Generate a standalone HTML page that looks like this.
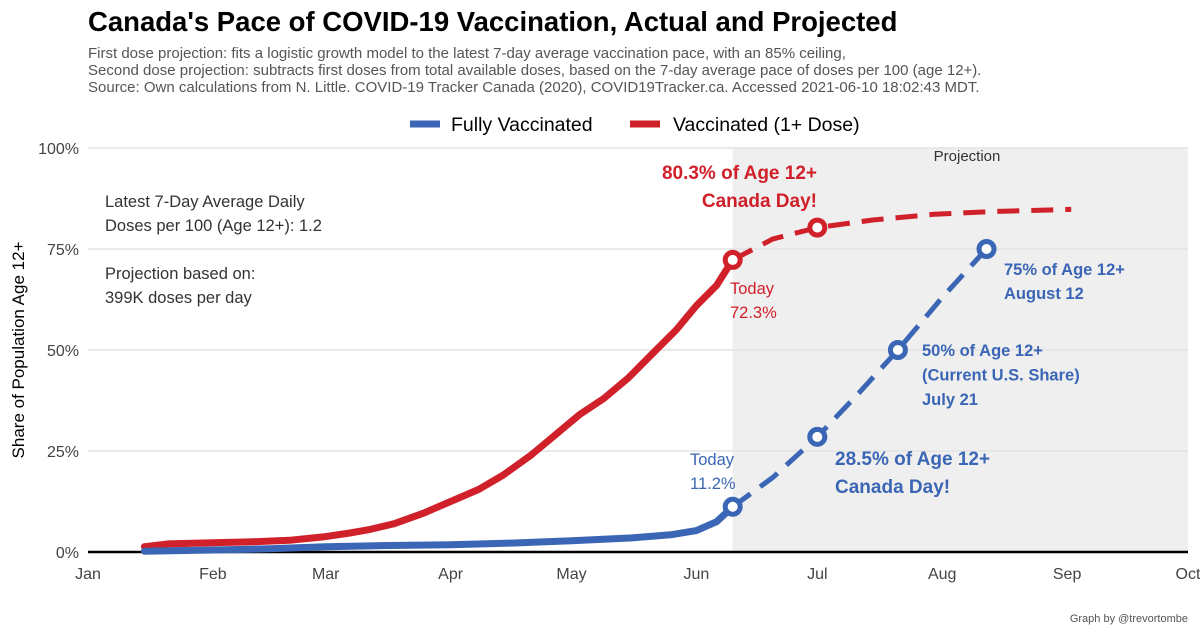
<!DOCTYPE html>
<html><head><meta charset="utf-8">
<style>
body{margin:0;background:#fff;font-family:"Liberation Sans",sans-serif;}
svg text{font-family:"Liberation Sans",sans-serif;}
</style></head>
<body>
<svg id="chart" width="1200" height="635" viewBox="0 0 1200 635" xmlns="http://www.w3.org/2000/svg">
<rect width="1200" height="635" fill="#fff"/>
<text x="88" y="31" font-size="27.5" font-weight="bold" fill="#000">Canada's Pace of COVID-19 Vaccination, Actual and Projected</text>
<g font-size="15" fill="#555">
<text x="88" y="58">First dose projection: fits a logistic growth model to the latest 7-day average vaccination pace, with an 85% ceiling,</text>
<text x="88" y="75">Second dose projection: subtracts first doses from total available doses, based on the 7-day average pace of doses per 100 (age 12+).</text>
<text x="88" y="92">Source: Own calculations from N. Little. COVID-19 Tracker Canada (2020), COVID19Tracker.ca. Accessed 2021-06-10 18:02:43 MDT.</text>
</g>
<g font-size="19.5" fill="#000">
<g><line x1="410" y1="124" x2="440" y2="124" stroke="#3a66b5" stroke-width="7"/><text x="451" y="131">Fully Vaccinated</text></g>
<g><line x1="630" y1="124" x2="660" y2="124" stroke="#d0202a" stroke-width="7"/><text x="673" y="131">Vaccinated (1+ Dose)</text></g>
</g>
<g id="plot"></g>
<text transform="translate(24,350) rotate(-90)" text-anchor="middle" font-size="17" fill="#000">Share of Population Age 12+</text>
<text x="1188" y="622" text-anchor="end" font-size="11" fill="#555">Graph by @trevortombe</text>
</svg>
<script>
const monthLabels=["Jan","Feb","Mar","Apr","May","Jun","Jul","Aug","Sep","Oct"];
const monthDays=[0,31,59,90,120,151,181,212,243,273];
const yTicks=[0,25,50,75,100];
const firstDays=[14,20,31,40,50,59,65,70,76,83,90,97,103,110,116,122,128,134,140,146,151,156,160];
const firstVals=[1.3,2.0,2.3,2.5,2.9,3.8,4.7,5.6,7.0,9.5,12.5,15.5,19,24,29,34,38,43,49,55,61,66,72.3];
const fullDays=[14,31,45,59,75,90,105,120,135,145,151,156,160];
const fullVals=[0.2,0.5,0.8,1.3,1.6,1.8,2.2,2.8,3.5,4.3,5.3,7.5,11.2];
const projFirstDays=[160,170,181,195,210,225,244];
const projFirstVals=[72.3,77.5,80.3,82.2,83.6,84.3,84.8];
const projFullDays=[160,170,181,191,201,212,223];
const projFullVals=[11.2,18.5,28.5,39,50,63,75];
const markerDays=[160,181,160,181,201,223];
const markerVals=[72.3,80.3,11.2,28.5,50,75];
const markerSeries=["first","first","full","full","full","full"];

const X=d=>88+d*(1100/273);
const Y=v=>552-v*4.04;
const NS="http://www.w3.org/2000/svg";
const plot=document.getElementById('plot');
function mk(tag,attrs,parent){const e=document.createElementNS(NS,tag);for(const k in attrs)e.setAttribute(k,attrs[k]);(parent||plot).appendChild(e);return e;}

const shade=mk('rect',{x:X(160),y:Y(100),width:1188-X(160),height:Y(0)-Y(100),fill:'#efefef'});


const pl=mk('text',{x:967,y:161,'text-anchor':'middle','font-size':15,fill:'#333'});pl.textContent='Projection';



yTicks.forEach(t=>{
 const g=mk('line',{x1:88,x2:1188,y1:Y(t),y2:Y(t),stroke:'#e3e3e3','stroke-width':1.5});
 
 
 const tx=mk('text',{x:79,y:Y(t)+6,'text-anchor':'end','font-size':16,fill:'#444'});tx.textContent=t+'%';
 
 
});
monthLabels.forEach((m,i)=>{
 const tx=mk('text',{x:X(monthDays[i]),y:579,'text-anchor':'middle','font-size':16,fill:'#444'});tx.textContent=m;
 
 
});
const ax=mk('line',{x1:88,x2:1188,y1:Y(0),y2:Y(0),stroke:'#000','stroke-width':2.5});



function path(days,vals,color,dash,name){
 const d=days.map((dd,i)=>(i?'L':'M')+X(dd).toFixed(1)+','+Y(vals[i]).toFixed(1)).join(' ');
 const p=mk('path',{d:d,fill:'none',stroke:color,'stroke-width':dash?5:7,'stroke-linejoin':'round','stroke-linecap':dash?'butt':'round'});
 if(dash)p.setAttribute('stroke-dasharray','22,12');
 
 
}
path(firstDays,firstVals,'#d0202a',false,'first-dose-line');
path(fullDays,fullVals,'#3a66b5',false,'fully-vaccinated-line');
path(projFirstDays,projFirstVals,'#d0202a',true,'first-dose-projection');
path(projFullDays,projFullVals,'#3a66b5',true,'fully-vaccinated-projection');
markerDays.forEach((d,i)=>{
 const c=mk('circle',{cx:X(d),cy:Y(markerVals[i]),r:7.5,fill:'#fff',stroke:markerSeries[i]==='first'?'#d0202a':'#3a66b5','stroke-width':5});
 
 
});

function lbl(x,y,lines,color,bold,size,anchor,name,lh){
 const t=mk('text',{x:x,y:y,'font-size':size,fill:color,'font-weight':bold?'bold':'normal','text-anchor':anchor||'start'});
 lines.forEach((l,i)=>{const s=mk('tspan',{x:x,dy:i?(lh||size*1.45):0},t);s.textContent=l;});
 
 
}
lbl(105,207,['Latest 7-Day Average Daily','Doses per 100 (Age 12+): 1.2'],'#333',false,16.5,'start','pace-annotation',24);
lbl(105,279,['Projection based on:','399K doses per day'],'#333',false,16.5,'start','doses-annotation',24);
lbl(817,179,['80.3% of Age 12+','Canada Day!'],'#d0202a',true,19,'end','first-dose-canada-day-label',28);
lbl(730,294,['Today','72.3%'],'#d0202a',false,16.5,'start','first-dose-today-label',24);
lbl(690,465,['Today','11.2%'],'#3a66b5',false,16.5,'start','full-today-label',24);
lbl(835,465,['28.5% of Age 12+','Canada Day!'],'#3a66b5',true,19,'start','full-canada-day-label',28);
lbl(922,356,['50% of Age 12+','(Current U.S. Share)','July 21'],'#3a66b5',true,16.5,'start','full-50-label',24.5);
lbl(1004,275,['75% of Age 12+','August 12'],'#3a66b5',true,16.5,'start','full-75-label',24);
</script>
</body></html>
